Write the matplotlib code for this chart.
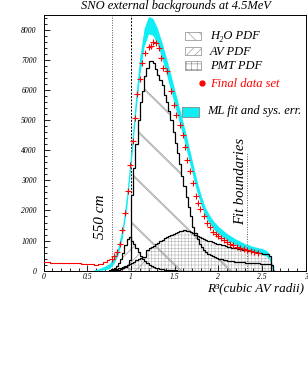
import numpy as np
import matplotlib
matplotlib.use("Agg")
import matplotlib.pyplot as plt
from matplotlib.patches import Rectangle
from matplotlib.lines import Line2D

plt.rcParams['font.family'] = ['Liberation Serif', 'DejaVu Serif']
plt.rcParams['font.style'] = 'italic'
plt.rcParams['hatch.linewidth'] = 0.4

# ---- data ----
# histogram bins (width 0.025 in R^3)
edges = np.round(np.arange(0.75, 2.6501, 0.025), 3)
h2o = [0, 0, 10, 20, 30, 50, 80, 130, 200, 350,
       2500, 3400, 4200, 5000, 5600, 5950, 6450, 6720, 6950, 6950,
       6880, 6700, 6500, 6340, 6150, 5850, 5600, 5300, 5000, 4600,
       4250, 3900, 3550, 3150, 2800, 2450, 2100, 1800, 1450, 1250,
       1050, 900, 800, 700, 630, 570, 520, 480, 450, 420,
       400, 380, 360, 345, 330, 320, 310, 300, 290, 285,
       280, 275, 270, 265, 260, 255, 250, 245, 240, 235,
       230, 225, 220, 210, 180, 0]
av = [20, 40, 80, 150, 250, 400, 600, 850, 1050, 1120,
      1000, 870, 750, 620, 500, 400, 320, 250, 200, 160,
      130, 100, 80, 60, 45, 35, 25, 20, 15, 10,
      8, 6, 4, 2, 0, 0, 0, 0, 0, 0,
      0, 0, 0, 0, 0, 0, 0, 0, 0, 0,
      0, 0, 0, 0, 0, 0, 0, 0, 0, 0,
      0, 0, 0, 0, 0, 0, 0, 0, 0, 0,
      0, 0, 0, 0, 0, 0]
pmt = [0, 20, 40, 60, 80, 100, 130, 160, 190, 220,
       260, 300, 340, 380, 410, 440, 460, 690, 740, 780,
       830, 870, 920, 980, 1030, 1070, 1110, 1150, 1190, 1230,
       1260, 1290, 1310, 1330, 1340, 1330, 1320, 1290, 1250, 1200,
       1150, 1110, 1080, 1050, 1020, 1000, 970, 950, 920, 900,
       880, 860, 840, 820, 800, 790, 770, 760, 740, 730,
       710, 700, 690, 670, 660, 650, 630, 620, 600, 590,
       570, 560, 540, 500, 0, 0]

# ML fit band
fit_x = [0.55, 0.6, 0.65, 0.7, 0.75, 0.8, 0.85, 0.9, 0.95, 1.0,
         1.05, 1.1, 1.15, 1.2, 1.25, 1.3, 1.35, 1.4, 1.45, 1.5,
         1.55, 1.6, 1.65, 1.7, 1.75, 1.8, 1.85, 1.9, 1.95, 2.0,
         2.1, 2.2, 2.3, 2.4, 2.5, 2.55, 2.58, 2.6, 2.62, 2.64]
fit_y = [0, 20, 50, 90, 150, 320, 650, 1250, 2300, 3750,
         5400, 6800, 7750, 8150, 8100, 7800, 7350, 6850, 6300, 5750,
         5200, 4650, 4050, 3450, 2850, 2350, 1950, 1700, 1500, 1350,
         1120, 950, 810, 710, 640, 580, 480, 300, 100, 0]
fit_err = [0, 20, 40, 60, 80, 100, 130, 170, 220, 250,
           280, 300, 300, 290, 280, 270, 270, 270, 270, 260,
           250, 240, 230, 210, 190, 170, 150, 140, 130, 120,
           110, 100, 95, 95, 95, 95, 90, 90, 70, 0]

# final data set
low_x = [0.0, 0.05, 0.1, 0.15, 0.2, 0.25, 0.3, 0.35, 0.4, 0.45,
         0.5, 0.55, 0.6, 0.65, 0.7, 0.75]
low_y = [300, 280, 270, 265, 270, 260, 260, 250, 240, 225,
         215, 210, 205, 230, 280, 360]
data_x = [0.78, 0.81, 0.84, 0.87, 0.9, 0.93, 0.96, 0.99, 1.02, 1.045,
          1.07, 1.10, 1.13, 1.165, 1.20, 1.225, 1.255, 1.29, 1.32, 1.345,
          1.37, 1.41, 1.455, 1.49, 1.52, 1.555, 1.59, 1.62, 1.645, 1.675,
          1.71, 1.74, 1.765, 1.79, 1.83, 1.87, 1.905, 1.94, 1.97, 2.0,
          2.03, 2.06, 2.10, 2.13, 2.17, 2.21, 2.25, 2.29, 2.33, 2.37,
          2.41, 2.45]
data_y = [380, 480, 620, 900, 1350, 1900, 2650, 3500, 4300, 5060,
          5860, 6380, 6890, 7220, 7440, 7470, 7610, 7570, 7390, 7060,
          6730, 6620, 5950, 5500, 5170, 4850, 4490, 4100, 3690, 3320,
          2900, 2480, 2250, 2040, 1800, 1590, 1440, 1300, 1220, 1140,
          1080, 1010, 960, 900, 850, 800, 760, 720, 690, 650,
          610, 580]

W, H = 308, 388
fig = plt.figure(figsize=(W / 100, H / 100), dpi=100)
ax = fig.add_axes([43.7 / W, 1 - 270.7 / H, 262 / W, 256 / H])


def fx(px):
    return px / W


def fy(py):
    return 1 - py / H


# fit band
fit_y = np.array(fit_y)
fit_err = np.array(fit_err)
ax.fill_between(fit_x, fit_y - fit_err, fit_y + fit_err, color='#10eef5', lw=0, zorder=2)

# PMT pdf, dotted grid
ax.stairs(pmt, edges, fill=True, facecolor='white', edgecolor='#b4b4b4', lw=0,
          hatch='+++++', zorder=1)


def sparse_hatch(patch, direction, spacing, offsets=(0.0, 0.006)):
    for c in np.arange(-1.0, 2.0, spacing):
        for o in offsets:
            if direction == '\\':
                xs, ys = [-0.5, 1.5], [c + o + 0.5, c + o - 1.5]
            else:
                xs, ys = [-0.5, 1.5], [c + o - 0.5, c + o + 1.5]
            ln, = ax.plot(xs, ys, color='#999999', lw=0.5, transform=ax.transAxes, zorder=3)
            ln.set_clip_path(patch)


h2o_patch = ax.stairs(h2o, edges, fill=True, facecolor='none', edgecolor='none', zorder=1)
sparse_hatch(h2o_patch, '\\', 0.19)
av_patch = ax.stairs(av, edges, fill=True, facecolor='none', edgecolor='none', zorder=1)
sparse_hatch(av_patch, '/', 0.05, offsets=(0.0,))

# outlines
for vals in (h2o, av, pmt):
    ax.stairs(vals, edges, color='black', lw=0.9, zorder=4)

# data
ax.step(low_x, low_y, where='mid', color='red', lw=0.8, zorder=5)
ax.plot(data_x, data_y, '+', color='red', ms=4, mew=0.8, zorder=5)

# reference lines
ax.axvline(0.78, color='#555555', ls=(0, (1, 1.5)), lw=0.7, zorder=1)
ax.axvline(1.0, color='black', ls=(0, (2, 1.5)), lw=0.7, zorder=1)
ax.plot([2.33, 2.33], [0, 3940], color='#555555', ls=(0, (1, 1.5)), lw=0.7, zorder=1)
ax.text(0.645, 1780, '550 cm', rotation=90, ha='center', va='center', fontsize=11)
ax.text(2.25, 2980, 'Fit boundaries', rotation=90, ha='center', va='center', fontsize=10.5)

ax.set_xlim(0, 3)
ax.set_ylim(0, 8500)
ax.set_xticks([0, 0.5, 1, 1.5, 2, 2.5, 3])
ax.set_xticklabels(['0', '0.5', '1', '1.5', '2', '2.5', '3'])
ax.set_xticks(np.arange(0, 3.01, 0.1), minor=True)
ax.set_yticks(np.arange(0, 8001, 1000))
ax.set_yticks(np.arange(0, 8401, 200), minor=True)
ax.tick_params(which='both', direction='in', labelsize=5.5, width=0.6)
ax.tick_params(which='major', length=4)
ax.tick_params(which='minor', length=2)
ax.tick_params(axis='y', pad=5)
ax.tick_params(axis='x', pad=2)
for s in ax.spines.values():
    s.set_linewidth(0.7)

fig.text(0.57, fy(6), 'SNO external backgrounds at 4.5MeV', ha='center', va='center', fontsize=9)
fig.text(fx(304), fy(288), 'R³(cubic AV radii)', ha='right', va='center', fontsize=9.5)

# legend, drawn by hand
boxes = [(185, 32, 16, 8, '\\\\\\', 'H₂O PDF', 36),
         (185, 47, 16, 8, '////', 'AV PDF', 52),
         (185, 61, 16, 9, '+++', 'PMT PDF', 66)]
for px, py, w, h, hat, lab, ty in boxes:
    fig.add_artist(Rectangle((fx(px), fy(py + h)), w / W, h / H, transform=fig.transFigure,
                             facecolor='white', edgecolor='#888888', lw=0.5, hatch=hat))
    fig.text(fx(210), fy(ty), lab, ha='left', va='center', fontsize=9)
fig.add_artist(Line2D([fx(201.7)], [fy(83.3)], marker='o', ms=3.5, color='red',
                      transform=fig.transFigure))
fig.text(fx(210), fy(84), 'Final data set', ha='left', va='center', fontsize=9, color='red')
fig.add_artist(Rectangle((fx(181.7), fy(116.7)), 17.6 / W, 10 / H, transform=fig.transFigure,
                         facecolor='#10eef5', edgecolor='#777777', lw=0.5))
fig.text(fx(207), fy(111), 'ML fit and sys. err.', ha='left', va='center', fontsize=9)

fig.savefig('out.png', dpi=100)
